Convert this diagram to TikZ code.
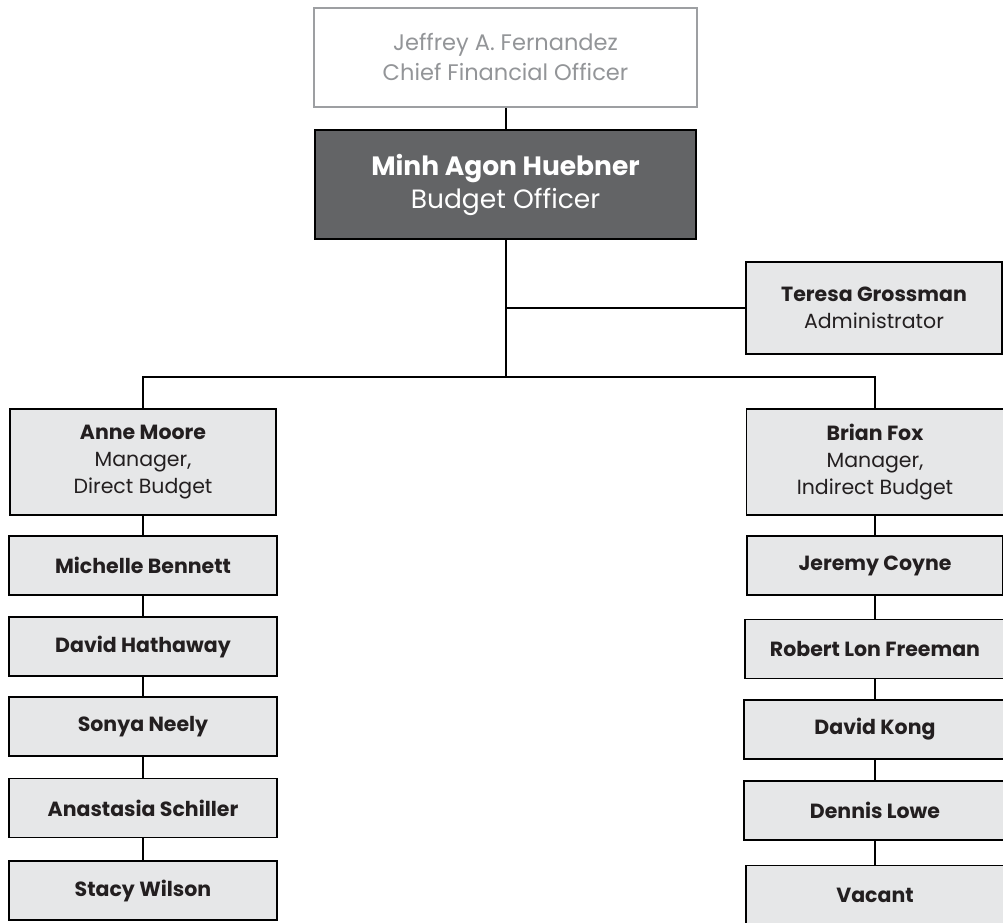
\documentclass[tikz,border=0pt]{standalone}
\usepackage{fontspec}
\setmainfont{Poppins}
\usetikzlibrary{positioning}
\definecolor{boxfill}{HTML}{E6E7E8}
\definecolor{bossfill}{HTML}{636466}
\definecolor{cfoline}{HTML}{9D9FA2}
\definecolor{cfotext}{HTML}{939598}
\definecolor{ink}{HTML}{231F20}
\tikzset{
  person/.style={draw=black, fill=boxfill, line width=1.8pt, text=ink, align=center,
    inner sep=0pt, font=\fontsize{20.5}{27}\selectfont},
  staff/.style={person, minimum width=268pt, minimum height=59pt},
  manager/.style={person, minimum width=266pt, minimum height=106pt},
  link/.style={line width=2pt},
}

\begin{document}
\begin{tikzpicture}[x=1pt,y=-1pt]
  \useasboundingbox (0,0) rectangle (1003,922);
  % top of the chart
  \node[draw=cfoline, fill=white, line width=1.8pt, text=cfotext, align=center,
    minimum width=383pt, minimum height=99pt, font=\fontsize{22.5}{30}\selectfont]
    (cfo) at (505.5,57.5) {Jeffrey A. Fernandez\\Chief Financial Officer};
  \node[draw=black, fill=bossfill, line width=1.8pt, text=white, align=center,
    minimum width=381pt, minimum height=109pt, font=\fontsize{26.5}{33}\selectfont]
    (budget) at (505.5,184.5) {\textbf{Minh Agon Huebner}\\Budget Officer};
  \node[person, minimum width=256pt, minimum height=92pt] (admin) at (874,308)
    {\textbf{Teresa Grossman}\\Administrator};
  \coordinate (hline) at (0,377);

  % managers
  \node[manager] (moore) at (143,462) {\textbf{Anne Moore}\\Manager,\\Direct Budget};
  \node[manager, minimum width=257pt] (fox) at (875,462) {\textbf{Brian Fox}\\Manager,\\Indirect Budget};

  % direct budget staff
  \node[staff] (bennett) at (143,565.5) {\textbf{Michelle Bennett}};
  \node[staff] (hathaway) at (143,646.5) {\textbf{David Hathaway}};
  \node[staff] (neely) at (143,726.5) {\textbf{Sonya Neely}};
  \node[staff] (schiller) at (143,808) {\textbf{Anastasia Schiller}};
  \node[staff] (wilson) at (143,890.5) {\textbf{Stacy Wilson}};

  % indirect budget staff
  \node[staff, minimum width=256pt] (coyne) at (875,565.5) {\textbf{Jeremy Coyne}};
  \node[staff, minimum width=260pt] (freeman) at (875,649) {\textbf{Robert Lon Freeman}};
  \node[staff, minimum width=262pt] (kong) at (875,729.5) {\textbf{David Kong}};
  \node[staff, minimum width=262pt] (lowe) at (875,810.5) {\textbf{Dennis Lowe}};
  \node[staff, minimum width=258pt] (vacant) at (875,895) {\textbf{Vacant}};

  % connectors
  \coordinate (split) at (budget.south |- hline);
  \draw[link] (cfo) -- (budget);
  \draw[link] (budget) -- (split);
  \draw[link] (budget.south |- admin.west) -- (admin.west);
  \draw[link] (moore.north) |- (split) -| (fox.north);
  \foreach \a/\b in {moore/bennett,bennett/hathaway,hathaway/neely,neely/schiller,schiller/wilson,
                     fox/coyne,coyne/freeman,freeman/kong,kong/lowe,lowe/vacant}
    \draw[link] (\a) -- (\b);
\end{tikzpicture}
\end{document}
